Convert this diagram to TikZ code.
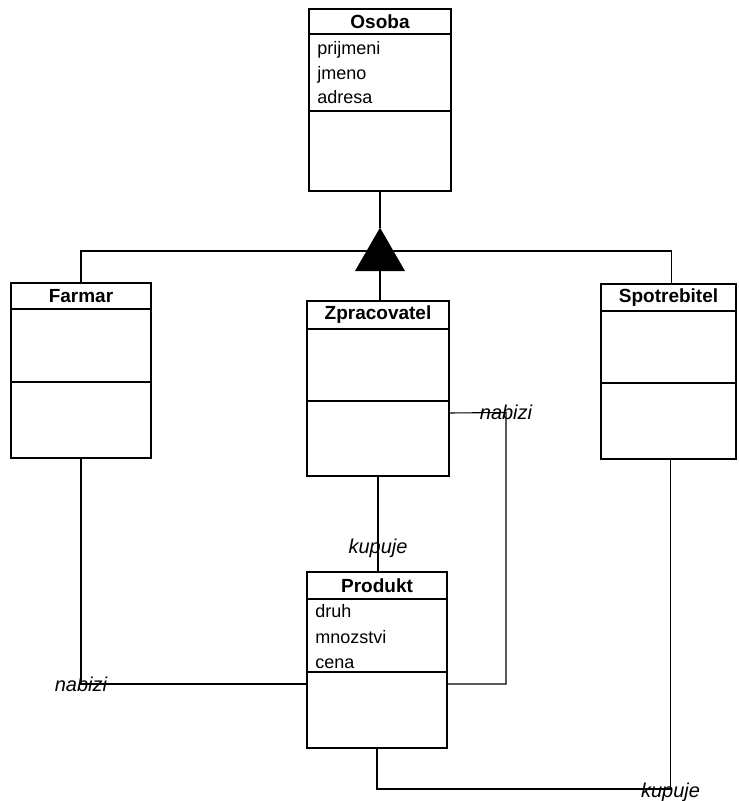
\documentclass[tikz,border=0pt]{standalone}
\usepackage{fontspec}
\setmainfont{Liberation Sans}
\usetikzlibrary{positioning}
\usetikzlibrary{shapes.geometric}

\tikzset{
	classbox/.style={draw, line width=1.3pt, rectangle, inner sep=0pt, outer sep=0pt},
	sepline/.style={line width=0.9pt},
	classname/.style={font=\bfseries\fontsize{9.5}{11}\selectfont, inner sep=0pt},
	attr/.style={font=\fontsize{9}{11}\selectfont, anchor=base west, inner sep=0pt},
	link/.style={line width=0.55pt},
	role/.style={font=\itshape\fontsize{10}{12}\selectfont, inner sep=1pt},
}

\begin{document}
\begin{tikzpicture}[x=0.5pt, y=-0.5pt]
		\useasboundingbox (0,0) rectangle (738,801);
		% classes
		\node[classbox, minimum width=71pt, minimum height=91pt] (osoba) at (380,100) {};
		\node[classbox, minimum width=70pt, minimum height=87.5pt] (farmar) at (81,370.5) {};
		\node[classbox, minimum width=71pt, minimum height=87.5pt] (zpracovatel) at (378,388.5) {};
		\node[classbox, minimum width=67.5pt, minimum height=87.5pt] (spotrebitel) at (668.5,371.5) {};
		\node[classbox, minimum width=70pt, minimum height=88pt] (produkt) at (377,660) {};
		\foreach \cls/\ttl/\a/\b in {osoba/Osoba/12.5/51, farmar/Farmar/13/49.5, zpracovatel/Zpracovatel/14/50, spotrebitel/Spotrebitel/13.5/49.5, produkt/Produkt/13.5/50} {
			\draw[sepline] ([yshift=-\a pt]\cls.north west) -- ([yshift=-\a pt]\cls.north east);
			\draw[sepline] ([yshift=-\b pt]\cls.north west) -- ([yshift=-\b pt]\cls.north east);
			\node[classname] (\cls-name) at ([yshift=-\a*0.5pt]\cls.north) {\ttl};
		}
		% attributes
		\node[attr] (osoba-a1) at ([xshift=4pt, yshift=-23pt]osoba.north west) {prijmeni};
		\node[attr] (osoba-a2) at ([xshift=4pt, yshift=-35.5pt]osoba.north west) {jmeno};
		\node[attr] (osoba-a3) at ([xshift=4pt, yshift=-47.5pt]osoba.north west) {adresa};
		\node[attr] (produkt-a1) at ([xshift=4pt, yshift=-22.5pt]produkt.north west) {druh};
		\node[attr] (produkt-a2) at ([xshift=4pt, yshift=-35.5pt]produkt.north west) {mnozstvi};
		\node[attr] (produkt-a3) at ([xshift=4pt, yshift=-48pt]produkt.north west) {cena};
		% generalisation
		\coordinate (gbar) at (380,251);
		\draw[link] (farmar.north) |- (gbar) -| ([xshift=1.5pt]spotrebitel.north);
		\node[regular polygon, regular polygon sides=3, fill, inner sep=0pt, outer sep=0pt, minimum size=28.9pt] (gen) at (380,256.6) {};
		\draw[link] (osoba.south) -- (gen.north);
		\draw[link] (gen.south) -- (gen.south |- zpracovatel.north);
		% associations
		\draw[link] (farmar.south) |- node[role] (farmar-nabizi) {nabizi} ([yshift=-12pt]produkt.west);
		\draw[link] (zpracovatel.south) -- node[role, pos=0.75] (zp-kupuje) {kupuje} (zpracovatel.south |- produkt.north);
		\coordinate (zbend) at (506,412.5);
		\draw[link] ([yshift=-12.25pt]zpracovatel.east) -- (zbend) node[role] (zp-nabizi) {nabizi} |- ([yshift=-12pt]produkt.east);
		\coordinate (pbend) at (377,789);
		\draw[link] ([xshift=1pt]spotrebitel.south) |- node[role, yshift=-1.5pt] (sp-kupuje) {kupuje} (pbend) -- (produkt.south);
\end{tikzpicture}
\end{document}
